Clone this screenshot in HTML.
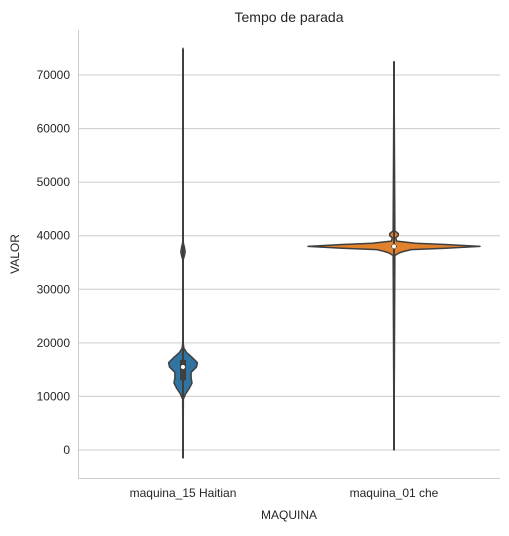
<!DOCTYPE html>
<html><head><meta charset="utf-8"><style>
body{margin:0;background:#fff;font-family:"Liberation Sans",sans-serif}
svg text{font-family:"Liberation Sans",sans-serif;fill:#262626}
</style></head><body>
<svg id="c" width="509" height="531" xmlns="http://www.w3.org/2000/svg">
<text x="289" y="22" text-anchor="middle" font-size="14">Tempo de parada</text>
<text x="19" y="254" text-anchor="middle" font-size="12" transform="rotate(-90 19 254)">VALOR</text>
<text x="289" y="519" text-anchor="middle" font-size="12">MAQUINA</text>
</svg>
<script>
const categories=["maquina_15 Haitian","maquina_01 che"];
const yTicks=[0,10000,20000,30000,40000,50000,60000,70000];
// density profiles: [value, relative width 0..1]
const dens1=[[-1500,0],[9500,0.02],[10500,0.15],[11500,0.35],[12500,0.5],[13500,0.45],[14500,0.45],[15500,0.75],[16300,0.8],[17300,0.5],[18200,0.2],[19000,0.05],[20000,0.01],[35500,0.01],[36300,0.08],[37000,0.12],[37800,0.08],[38800,0.01],[75000,0]];
const dens2=[[0,0],[36300,0.01],[36800,0.06],[37100,0.12],[37400,0.2],[37650,0.6],[38000,1.0],[38350,0.6],[38600,0.25],[39000,0.03],[39600,0.02],[40000,0.05],[40400,0.05],[40900,0.01],[72500,0]];
const mins=[-1500,0],maxs=[74800,72500],q1=[13000,37900],q3=[16800,38100],med=[15500,38000];
const colors=["#3274a1","#e1812c"];
const svg=document.getElementById('c');const NS="http://www.w3.org/2000/svg";
const y=v=>450-v*(375/70000);
const xc=i=>183+i*211;
const maxW=[18,86];
function mk(t,a){const e=document.createElementNS(NS,t);for(const k in a)e.setAttribute(k,a[k]);svg.appendChild(e);return e;}
yTicks.forEach(t=>{const g=mk('line',{x1:78,x2:500,y1:y(t),y2:y(t),stroke:'#cccccc','stroke-width':1});


const tx=mk('text',{x:70,y:y(t)+4,'text-anchor':'end','font-size':12});tx.textContent=t;

});
const ax1=mk('line',{x1:78.5,x2:78.5,y1:30,y2:478,stroke:'#cccccc'});


const ax2=mk('line',{x1:78,x2:500,y1:478.5,y2:478.5,stroke:'#cccccc'});


[dens1,dens2].forEach((d,i)=>{
 const c=xc(i);let r=d.map(p=>(c+p[1]*maxW[i])+','+y(p[0]));let l=d.slice().reverse().map(p=>(c-p[1]*maxW[i])+','+y(p[0]));
 const v=mk('polygon',{points:r.concat(l).join(' '),fill:colors[i],stroke:'#3f3f3f','stroke-width':1.5,'stroke-linejoin':'round'});
 
 
 const w=mk('line',{x1:c,x2:c,y1:y(mins[i]),y2:y(maxs[i]),stroke:'#3f3f3f','stroke-width':2});
 
 
 const b=mk('rect',{x:c-3,y:y(q3[i]),width:6,height:Math.max(1,y(q1[i])-y(q3[i])),fill:'#3f3f3f'});
 
 
 const m=mk('circle',{cx:c,cy:y(med[i]),r:2.3,fill:'#fff',stroke:'#3f3f3f','stroke-width':0.5});
 
 
 const t=mk('text',{x:c,y:497,'text-anchor':'middle','font-size':12});t.textContent=categories[i];
 
 
});
</script>
</body></html>
